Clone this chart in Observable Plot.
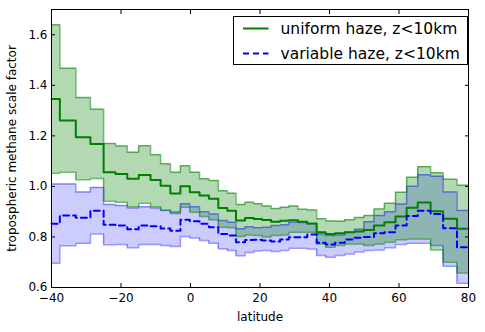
<!DOCTYPE html>
<html><head><meta charset="utf-8">
<script src="https://cdn.jsdelivr.net/npm/d3@7"></script>
<script src="https://cdn.jsdelivr.net/npm/@observablehq/plot@0.6"></script>
<style>body{margin:0;background:#fff} svg{font-family:"DejaVu Sans"}</style>
</head><body><div id="chart"></div>
<script>
const latEdges = [-40, -37.6, -33.0, -28.8, -25.0, -21.6, -18.2, -14.9, -11.5, -8.6, -5.8, -2.9, -0.2, 2.6, 5.3, 8.0, 10.6, 13.1, 15.7, 18.2, 20.6, 23.2, 25.8, 28.3, 30.9, 33.6, 36.3, 38.9, 41.6, 44.4, 47.2, 49.9, 52.8, 55.8, 59.0, 62.2, 65.4, 69.1, 72.7, 76.7, 80];
const uniformMid = [1.346, 1.261, 1.195, 1.168, 1.056, 1.049, 1.030, 1.045, 1.025, 1.003, 0.972, 1.001, 0.977, 0.964, 0.951, 0.915, 0.904, 0.865, 0.875, 0.871, 0.867, 0.860, 0.864, 0.866, 0.860, 0.853, 0.819, 0.812, 0.815, 0.819, 0.822, 0.828, 0.845, 0.858, 0.881, 0.916, 0.936, 0.902, 0.872, 0.832];
const uniformHi = [1.640, 1.468, 1.352, 1.305, 1.170, 1.160, 1.135, 1.161, 1.125, 1.090, 1.056, 1.082, 1.056, 1.030, 1.023, 0.983, 0.973, 0.928, 0.937, 0.931, 0.922, 0.913, 0.918, 0.922, 0.910, 0.907, 0.872, 0.863, 0.862, 0.868, 0.877, 0.885, 0.911, 0.933, 0.977, 1.036, 1.078, 1.054, 1.028, 1.005];
const uniformLo = [1.052, 1.056, 1.026, 1.031, 0.941, 0.937, 0.920, 0.933, 0.920, 0.907, 0.893, 0.918, 0.898, 0.881, 0.868, 0.838, 0.836, 0.802, 0.808, 0.806, 0.800, 0.806, 0.808, 0.819, 0.819, 0.819, 0.772, 0.759, 0.766, 0.772, 0.772, 0.766, 0.772, 0.779, 0.789, 0.792, 0.792, 0.748, 0.700, 0.657];
const variableMid = [0.852, 0.885, 0.876, 0.904, 0.848, 0.845, 0.830, 0.845, 0.842, 0.833, 0.825, 0.868, 0.862, 0.852, 0.838, 0.812, 0.806, 0.779, 0.788, 0.789, 0.786, 0.782, 0.790, 0.799, 0.799, 0.810, 0.777, 0.770, 0.777, 0.790, 0.797, 0.800, 0.815, 0.819, 0.845, 0.883, 0.904, 0.891, 0.834, 0.759];
const variableHi = [1.010, 1.010, 0.978, 0.996, 0.928, 0.924, 0.915, 0.920, 0.915, 0.905, 0.899, 0.931, 0.920, 0.900, 0.891, 0.865, 0.858, 0.832, 0.840, 0.836, 0.838, 0.845, 0.848, 0.858, 0.857, 0.852, 0.812, 0.806, 0.808, 0.819, 0.830, 0.860, 0.885, 0.900, 0.930, 1.001, 1.046, 1.040, 0.978, 0.905];
const variableLo = [0.696, 0.765, 0.775, 0.812, 0.769, 0.770, 0.757, 0.770, 0.770, 0.766, 0.762, 0.802, 0.796, 0.786, 0.775, 0.753, 0.746, 0.726, 0.738, 0.744, 0.746, 0.742, 0.746, 0.755, 0.755, 0.752, 0.727, 0.720, 0.727, 0.733, 0.740, 0.746, 0.748, 0.757, 0.770, 0.775, 0.775, 0.766, 0.684, 0.617];
const xTicks = [-40, -20, 0, 20, 40, 60, 80];
const yTicks = [0.6, 0.8, 1.0, 1.2, 1.4, 1.6];
const seriesLabels = ["uniform haze, z<10km", "variable haze, z<10km"];

const GREEN = "#008000", BLUE = "#0000ff";
const at = (a, i) => a[Math.min(i, a.length - 1)];
const steps = vals => latEdges.map((lat, i) => ({lat, v: at(vals, i)}));
const band = (lo, hi) => latEdges.map((lat, i) => ({lat, lo: at(lo, i), hi: at(hi, i)}));
const S = {x: "lat", y: "v", curve: "step-after"};

const plot = Plot.plot({
  width: 485, height: 332,
  marginLeft: 51, marginRight: 17, marginTop: 9, marginBottom: 45,
  style: {fontFamily: "DejaVu Sans", fontSize: "12px", background: "white", color: "black", overflow: "visible"},
  x: {domain: [-40, 80]},
  y: {domain: [0.6, 1.7]},
  marks: [
    Plot.areaY(band(variableLo, variableHi), {x: "lat", y1: "lo", y2: "hi", curve: "step-after", fill: BLUE, fillOpacity: 0.2}),
    Plot.areaY(band(uniformLo, uniformHi), {x: "lat", y1: "lo", y2: "hi", curve: "step-after", fill: GREEN, fillOpacity: 0.3}),
    Plot.line(steps(variableHi), {...S, stroke: BLUE, strokeOpacity: 0.4, strokeWidth: 1.5}),
    Plot.line(steps(variableLo), {...S, stroke: BLUE, strokeOpacity: 0.4, strokeWidth: 1.5}),
    Plot.line(steps(uniformHi), {...S, stroke: GREEN, strokeOpacity: 0.55, strokeWidth: 1.5}),
    Plot.line(steps(uniformLo), {...S, stroke: GREEN, strokeOpacity: 0.55, strokeWidth: 1.5}),
    Plot.line(steps(uniformMid), {...S, stroke: GREEN, strokeWidth: 2}),
    Plot.line(steps(variableMid), {...S, stroke: BLUE, strokeWidth: 2, strokeDasharray: "6,4"}),
    Plot.frame({stroke: "black", strokeWidth: 1}),
    Plot.axisX({anchor: "bottom", ticks: xTicks, tickSize: -4, tickPadding: 10, label: "latitude", labelAnchor: "center", labelOffset: 33, labelArrow: "none"}),
    Plot.axisX({anchor: "top", ticks: xTicks, tickSize: -4, tickFormat: () => "", label: null}),
    Plot.axisY({anchor: "left", ticks: yTicks, tickSize: -4, tickPadding: 8, tickFormat: d3.format(".1f"), label: "tropospheric methane scale factor", labelAnchor: "center", labelOffset: 44, labelArrow: "none"}),
    Plot.axisY({anchor: "right", ticks: yTicks, tickSize: -4, tickFormat: () => "", label: null})
  ]
});
document.getElementById("chart").appendChild(plot);

// legend inside the axes (upper right), as in the reference
const svg = d3.select(plot.tagName.toLowerCase() === "svg" ? plot : plot.querySelector("svg"));
const lg = svg.append("g").attr("transform", "translate(233.5,16.5)").attr("text-anchor", "start");
lg.append("rect").attr("width", 234).attr("height", 48).attr("fill", "white").attr("stroke", "black").attr("stroke-width", 1);
const styles = [{stroke: GREEN, dash: null}, {stroke: BLUE, dash: "6,4"}];
seriesLabels.forEach((t, i) => {
  const y = 12 + i * 25;
  lg.append("line").attr("x1", 9.5).attr("x2", 35).attr("y1", y).attr("y2", y)
    .attr("stroke", styles[i].stroke).attr("stroke-width", 2).attr("stroke-dasharray", styles[i].dash);
  lg.append("text").attr("x", 47).attr("y", y).attr("dy", "0.36em").attr("text-anchor", "start")
    .attr("font-family", "DejaVu Sans").attr("font-size", "15.5px").attr("fill", "black").text(t);
});
</script></body></html>
